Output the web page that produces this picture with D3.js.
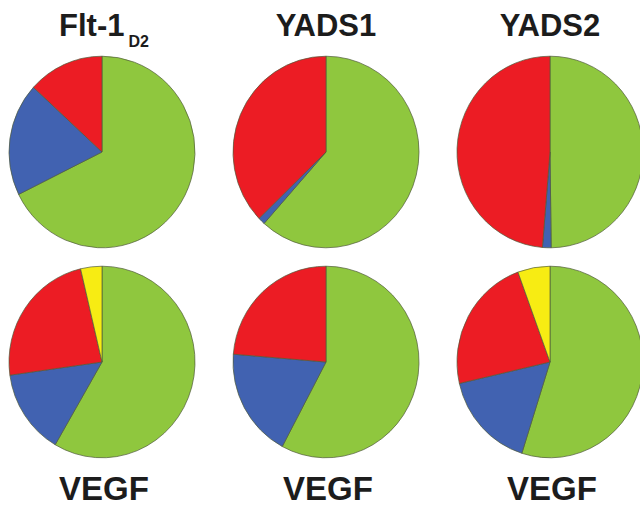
<!DOCTYPE html>
<html>
<head>
<meta charset="utf-8">
<script src="https://cdn.jsdelivr.net/npm/d3@7"></script>
<style>
  body { margin: 0; background: #fff; }
  svg { display: block; }
  .title { font-family: "Liberation Sans", Arial, sans-serif; font-weight: bold; fill: #1c1c1c; }
</style>
</head>
<body>
<div id="chart"></div>
<script>
// Chart size
var width = 640,
    height = 506;

// Panel labels
var titles = ["Flt-1", "YADS1", "YADS2"];
var titleSubs = ["D2", "", ""];
var bottomLabels = ["VEGF", "VEGF", "VEGF"];

// Slice values (percent) for the 6 pies, top row then bottom row
var green  = [67.7, 61.6, 49.8, 58.4, 57.8, 54.9];
var blue   = [19.1,  1.2,  1.5, 14.4, 18.5, 16.5];
var red    = [13.2, 37.2, 48.7, 23.5, 23.7, 23.0];
var yellow = [ 0.0,  0.0,  0.0,  3.7,  0.0,  5.6];

var keys = ["green", "blue", "red", "yellow"];
var color = d3.scaleOrdinal()
    .domain(keys)
    .range(["#8fc73e", "#4162b1", "#ec1c24", "#f7ec13"]);

// Grid positions
var col = d3.scalePoint().domain([0, 1, 2]).range([102, 550]);
var row = d3.scalePoint().domain([0, 1]).range([152, 362]);

var svg = d3.select("#chart")
    .append("svg")
    .attr("width", width)
    .attr("height", height);

var pie = d3.pie()
    .sort(null)
    .value(function (d) { return d.value; });

var arc = d3.arc()
    .innerRadius(0)
    .outerRadius(93);

for (var i = 0; i < 6; i++) {
    var slices = [
        { key: "green", value: green[i] },
        { key: "blue", value: blue[i] },
        { key: "red", value: red[i] },
        { key: "yellow", value: yellow[i] }
    ].filter(function (d) { return d.value > 0; });

    var g = svg.append("g")
        .attr("transform", "translate(" + col(i % 3) + "," + row(Math.floor(i / 3)) + ") scale(1,1.03)");

    g.selectAll("path")
        .data(pie(slices))
        .enter()
        .append("path")
        .attr("d", arc)
        .style("fill", function (d) { return color(d.data.key); })
        .style("stroke", "#4f5a3a")
        .style("stroke-width", 0.7)
        .style("stroke-linejoin", "round");
}

// Top titles
var t = svg.selectAll(".toptitle")
    .data(titles)
    .enter()
    .append("text")
    .attr("class", "title")
    .attr("x", function (d, i) { return col(i) + (titleSubs[i] ? 2 : 0); })
    .attr("y", 36)
    .attr("text-anchor", "middle")
    .style("font-size", "31px");

t.append("tspan").text(function (d) { return d; });
t.append("tspan")
    .attr("dx", 4)
    .attr("dy", 11)
    .style("font-size", "16px")
    .text(function (d, i) { return titleSubs[i]; });

// Bottom labels
svg.selectAll(".bottomlabel")
    .data(bottomLabels)
    .enter()
    .append("text")
    .attr("class", "title")
    .attr("x", function (d, i) { return col(i) + 2; })
    .attr("y", 500)
    .attr("text-anchor", "middle")
    .style("font-size", "33px")
    .text(function (d) { return d; });
</script>
</body>
</html>
